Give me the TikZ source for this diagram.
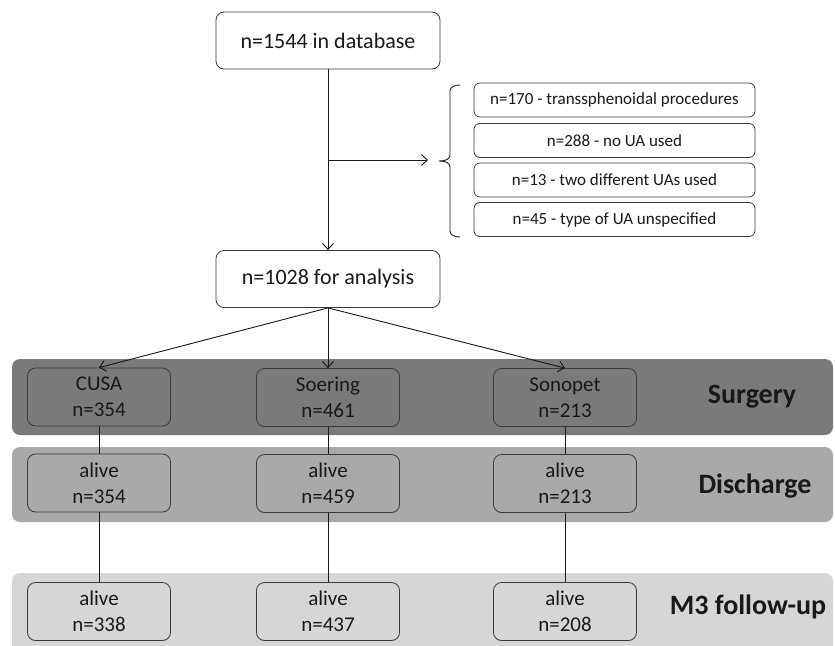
\documentclass[tikz,border=0pt]{standalone}
\usepackage{fontspec}
\setmainfont{Carlito}
\usetikzlibrary{arrows.meta}
\definecolor{bandA}{HTML}{7A7A7A}
\definecolor{bandB}{HTML}{A9A9A9}
\definecolor{bandC}{HTML}{D6D6D6}
\definecolor{edge}{HTML}{3A3A3A}
\begin{document}
\begin{tikzpicture}[x=1pt,y=-1pt,
  bigbox/.style={draw=edge,line width=0.8pt,rounded corners=8pt,fill=white,minimum width=224pt,minimum height=57pt,inner sep=0pt,font=\fontsize{22}{26}\selectfont,text=black!90},
  sidebox/.style={draw=edge,line width=0.8pt,rounded corners=6pt,fill=white,minimum width=281pt,minimum height=34pt,inner sep=0pt,font=\fontsize{17}{20}\selectfont,text=black!90},
  lvbox/.style={draw=edge,line width=0.8pt,rounded corners=8pt,minimum width=143pt,minimum height=58pt,inner sep=0pt,align=center,font=\fontsize{21}{26}\selectfont,text=black!90},
  band/.style={rounded corners=8pt},
  lbl/.style={font=\bfseries\fontsize{28}{32}\selectfont,text=black!90,inner sep=0pt},
  conn/.style={line width=0.9pt,draw=black!90},
  arr/.style={conn,-{Straight Barb[length=6pt,width=11pt]}}
]
\useasboundingbox (0,0) rectangle (835,645);
% bands
\fill[band,bandA] (12,359) rectangle (833,435);
\fill[band,bandB] (12,447) rectangle (833,522);
\fill[band,bandC] (12,573) rectangle (833,660);
% top boxes
\node[bigbox] (db) at (328,40.5) {n=1544 in database};
\node[bigbox] (an) at (328,279) {n=1028 for analysis};
% side boxes
\node[sidebox] (s1) at (614.5,100) {n=170 - transsphenoidal procedures};
\node[sidebox] (s2) at (614.5,140.5) {n=288 - no UA used};
\node[sidebox] (s3) at (614.5,180) {n=13 - two different UAs used};
\node[sidebox] (s4) at (614.5,219.5) {n=45 - type of UA unspecified};
% brace
\draw[conn] (460,85) to[out=180,in=90] (450,91) -- (450,155) to[out=-90,in=0] (439,161) to[out=0,in=90] (450,167) -- (450,231) to[out=-90,in=180] (460,237);
% main flow
\draw[arr] (db) -- (an);
\coordinate (br) at (328,160);
\coordinate (brtip) at (428,160);
\draw[arr] (br) -- (brtip);
% level boxes
\node[lvbox] (c1) at (99,397) {CUSA\\n=354};
\node[lvbox] (c2) at (328,397.5) {Soering\\n=461};
\node[lvbox] (c3) at (565,397.5) {Sonopet\\n=213};
\node[lvbox] (d1) at (99,483) {alive\\n=354};
\node[lvbox] (d2) at (328,483.5) {alive\\n=459};
\node[lvbox] (d3) at (565,483.5) {alive\\n=213};
\node[lvbox] (m1) at (99,611.5) {alive\\n=338};
\node[lvbox] (m2) at (328,611.5) {alive\\n=437};
\node[lvbox] (m3) at (565,611.5) {alive\\n=208};
\draw[arr] (an.south) -- (c1.north);
\draw[arr] (an.south) -- (c2.north);
\draw[arr] (an.south) -- (c3.north);
\draw[conn] (c1) -- (d1); \draw[conn] (d1) -- (m1);
\draw[conn] (c2) -- (d2); \draw[conn] (d2) -- (m2);
\draw[conn] (c3) -- (d3); \draw[conn] (d3) -- (m3);
% labels
\node[lbl] (l1) at (752,397) {Surgery};
\node[lbl] (l2) at (755,486) {Discharge};
\node[lbl] (l3) at (748,607) {M3 follow-up};
\end{tikzpicture}
\end{document}
